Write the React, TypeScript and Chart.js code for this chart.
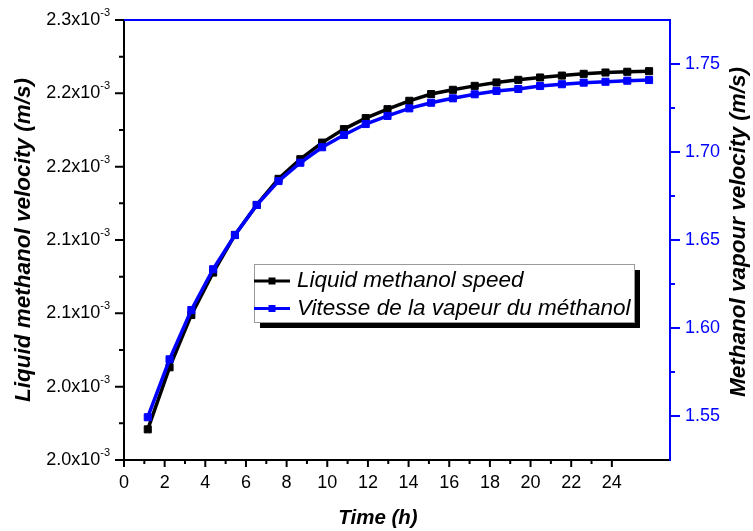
import React, { useEffect, useRef } from 'react';
import { Chart, registerables } from 'chart.js';

Chart.register(...registerables);

// ---------- data ----------
const hours = [1, 2, 3, 4, 5, 6, 7, 8, 9, 10, 11, 12, 13, 14, 15, 16, 17, 18, 19, 20, 21, 22, 23, 24];
const liquidSpeed = [
  0.0019709, 0.0020132, 0.0020489, 0.0020778, 0.0021035, 0.0021239, 0.0021417, 0.0021551,
  0.0021664, 0.0021756, 0.0021831, 0.0021892, 0.0021949, 0.0021995, 0.0022024, 0.0022051,
  0.0022074, 0.0022092, 0.0022108, 0.0022121, 0.0022133, 0.0022142, 0.0022147, 0.0022151,
];
const vapourSpeed = [
  1.5493, 1.5822, 1.6102, 1.6334, 1.6528, 1.6699, 1.6835, 1.6939,
  1.7027, 1.7097, 1.7159, 1.7205, 1.7248, 1.728, 1.7305, 1.7328,
  1.7347, 1.7358, 1.7375, 1.7385, 1.7394, 1.7399, 1.7405, 1.7409,
];
const seriesNames = ['Liquid methanol speed', 'Vitesse de la vapeur du méthanol'];

const xTickValues = [0, 2, 4, 6, 8, 10, 12, 14, 16, 18, 20, 22, 24];
const xMinorTicks = [1, 3, 5, 7, 9, 11, 13, 15, 17, 19, 21, 23];
const leftTickValues = [0.00195, 0.002, 0.00205, 0.0021, 0.00215, 0.0022, 0.00225];
const leftTickLabels = ['2.0', '2.0', '2.1', '2.1', '2.2', '2.2', '2.3'];
const leftTickExponent = '-3';
const leftMinorTicks = [0.001975, 0.002025, 0.002075, 0.002125, 0.002175, 0.002225];
const rightTickValues = [1.55, 1.6, 1.65, 1.7, 1.75];
const rightTickLabels = ['1.55', '1.60', '1.65', '1.70', '1.75'];
const rightMinorTicks = [1.575, 1.625, 1.675, 1.725];

const xTitle = 'Time (h)';
const leftTitle = 'Liquid methanol velocity (m/s)';
const rightTitle = 'Methanol vapour velocity (m/s)';

const BLUE = '#0000ff';
const BLACK = '#000000';
const FONT = '"Liberation Sans", Arial, Helvetica, sans-serif';

const decorPlugin = {
  id: 'decor',
  beforeDatasetsDraw(chart: any) {
    const { ctx, chartArea } = chart;
    const { left, right, top, bottom } = chartArea;
    const sx = chart.scales.x;
    const yl = chart.scales.yL;
    const yr = chart.scales.yR;
    ctx.save();
    ctx.lineWidth = 2;
    ctx.lineCap = 'butt';
    // left axis + ticks
    ctx.strokeStyle = BLACK;
    ctx.beginPath();
    ctx.moveTo(left, top - 1);
    ctx.lineTo(left, bottom + 1);
    ctx.stroke();
    ctx.beginPath();
    leftTickValues.forEach((v) => {
      const y = yl.getPixelForValue(v);
      ctx.moveTo(left, y);
      ctx.lineTo(left - 9, y);
    });
    leftMinorTicks.forEach((v) => {
      const y = yl.getPixelForValue(v);
      ctx.moveTo(left, y);
      ctx.lineTo(left - 5, y);
    });
    ctx.stroke();
    // bottom axis + ticks
    ctx.beginPath();
    ctx.moveTo(left - 1, bottom);
    ctx.lineTo(right, bottom);
    ctx.stroke();
    ctx.beginPath();
    xTickValues.forEach((v) => {
      const x = sx.getPixelForValue(v);
      ctx.moveTo(x, bottom);
      ctx.lineTo(x, bottom + 7);
    });
    xMinorTicks.forEach((v) => {
      const x = sx.getPixelForValue(v);
      ctx.moveTo(x, bottom);
      ctx.lineTo(x, bottom + 4);
    });
    ctx.stroke();
    // top + right axis (blue)
    ctx.strokeStyle = BLUE;
    ctx.beginPath();
    ctx.moveTo(left, top);
    ctx.lineTo(right + 1, top);
    ctx.moveTo(right, top);
    ctx.lineTo(right, bottom + 1);
    ctx.stroke();
    ctx.beginPath();
    rightTickValues.forEach((v) => {
      const y = yr.getPixelForValue(v);
      ctx.moveTo(right, y);
      ctx.lineTo(right + 10, y);
    });
    rightMinorTicks.forEach((v) => {
      const y = yr.getPixelForValue(v);
      ctx.moveTo(right, y);
      ctx.lineTo(right + 5, y);
    });
    ctx.stroke();
    ctx.restore();
  },
  afterDatasetsDraw(chart: any) {
    const { ctx } = chart;
    ctx.save();
    // legend box with shadow
    const bx = 254, by = 264, bw = 380, bh = 58;
    ctx.fillStyle = BLACK;
    ctx.fillRect(bx + 6, by + 6, bw, bh);
    ctx.fillStyle = '#ffffff';
    ctx.fillRect(bx, by, bw, bh);
    ctx.strokeStyle = '#9a9a9a';
    ctx.lineWidth = 1;
    ctx.strokeRect(bx + 0.5, by + 0.5, bw, bh);
    const rows = [
      { y: 281, color: BLACK, name: seriesNames[0] },
      { y: 308.5, color: BLUE, name: seriesNames[1] },
    ];
    rows.forEach((r) => {
      ctx.strokeStyle = r.color;
      ctx.lineWidth = 3;
      ctx.beginPath();
      ctx.moveTo(bx, r.y);
      ctx.lineTo(bx + 36, r.y);
      ctx.stroke();
      ctx.fillStyle = r.color;
      ctx.fillRect(bx + 14.5, r.y - 3.5, 7, 7);
      ctx.fillStyle = BLACK;
      ctx.font = `italic 22.5px ${FONT}`;
      ctx.textAlign = 'left';
      ctx.textBaseline = 'middle';
      ctx.fillText(r.name, bx + 43, r.y);
    });
    ctx.restore();
  },
  afterDraw(chart: any) {
    const { ctx, chartArea } = chart;
    const { left, right, bottom } = chartArea;
    const sx = chart.scales.x;
    const yl = chart.scales.yL;
    const yr = chart.scales.yR;
    ctx.save();
    // x tick labels
    ctx.fillStyle = BLACK;
    ctx.font = `18px ${FONT}`;
    ctx.textAlign = 'center';
    ctx.textBaseline = 'middle';
    xTickValues.forEach((v) => {
      ctx.fillText(String(v), sx.getPixelForValue(v), bottom + 23);
    });
    // left tick labels with superscript exponent
    leftTickValues.forEach((v, i) => {
      const y = yl.getPixelForValue(v);
      const endX = left - 14;
      ctx.font = `11px ${FONT}`;
      const w2 = ctx.measureText(leftTickExponent).width;
      ctx.textAlign = 'left';
      ctx.fillText(leftTickExponent, endX - w2, y - 7);
      ctx.font = `18px ${FONT}`;
      ctx.textAlign = 'right';
      ctx.fillText(leftTickLabels[i] + 'x10', endX - w2, y);
    });
    // right tick labels
    ctx.fillStyle = BLUE;
    ctx.font = `18px ${FONT}`;
    ctx.textAlign = 'left';
    rightTickValues.forEach((v, i) => {
      ctx.fillText(rightTickLabels[i], right + 15, yr.getPixelForValue(v));
    });
    // titles
    ctx.fillStyle = BLACK;
    ctx.font = `italic bold 20.5px ${FONT}`;
    ctx.textAlign = 'center';
    ctx.fillText(xTitle, 378, 518);
    ctx.font = `italic bold 22.5px ${FONT}`;
    ctx.save();
    ctx.translate(24, 240);
    ctx.rotate(-Math.PI / 2);
    ctx.fillText(leftTitle, 0, 0);
    ctx.restore();
    ctx.save();
    ctx.translate(739, 232);
    ctx.rotate(-Math.PI / 2);
    ctx.fillText(rightTitle, 0, 0);
    ctx.restore();
    ctx.restore();
  },
};

export default function App() {
  const canvasRef = useRef<HTMLCanvasElement | null>(null);

  useEffect(() => {
    const canvas = canvasRef.current;
    if (!canvas) return;
    const chart = new Chart(canvas, {
      type: 'line',
      data: {
        datasets: [
          {
            label: seriesNames[1],
            data: hours.map((h, i) => ({ x: h, y: vapourSpeed[i] })),
            xAxisID: 'xd',
            yAxisID: 'yR',
            borderColor: BLUE,
            backgroundColor: BLUE,
            borderWidth: 3.5,
            pointStyle: 'rect',
            pointRadius: 5,
            pointBorderWidth: 1,
            pointBorderColor: BLUE,
            pointBackgroundColor: BLUE,
            tension: 0,
            order: 1,
          },
          {
            label: seriesNames[0],
            data: hours.map((h, i) => ({ x: h, y: liquidSpeed[i] })),
            xAxisID: 'xd',
            yAxisID: 'yL',
            borderColor: BLACK,
            backgroundColor: BLACK,
            borderWidth: 3.5,
            pointStyle: 'rect',
            pointRadius: 5,
            pointBorderWidth: 1,
            pointBorderColor: BLACK,
            pointBackgroundColor: BLACK,
            tension: 0,
            order: 2,
          },
        ],
      },
      options: {
        responsive: false,
        animation: false,
        devicePixelRatio: 1,
        layout: { padding: { left: 124, right: 83, top: 20, bottom: 71 } },
        plugins: { legend: { display: false }, tooltip: { enabled: false } },
        scales: {
          x: { type: 'linear', position: 'bottom', display: false, min: 0, max: 26.86 },
          xd: { type: 'linear', position: 'bottom', display: false, min: -0.09, max: 24.96 },
          yL: { type: 'linear', position: 'left', display: false, min: 0.00195, max: 0.00225 },
          yR: { type: 'linear', position: 'right', display: false, min: 1.525, max: 1.775 },
        },
      },
      plugins: [decorPlugin],
    });
    return () => chart.destroy();
  }, []);

  return (
    <div style={{ position: 'fixed', left: 0, top: 0, width: 753, height: 531, background: '#ffffff' }}>
      <canvas ref={canvasRef} width={753} height={531} style={{ width: 753, height: 531, display: 'block' }} />
    </div>
  );
}
